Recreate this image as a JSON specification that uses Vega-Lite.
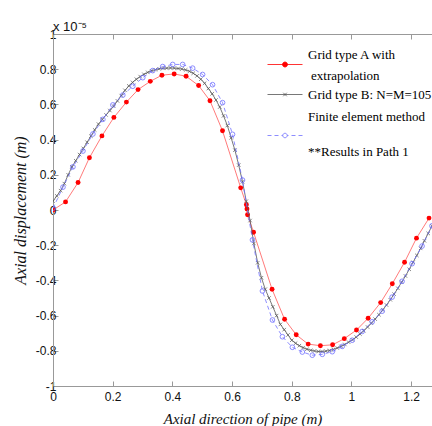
{
 "$schema": "https://vega.github.io/schema/vega-lite/v6.json",
 "width": 379,
 "height": 352,
 "autosize": {"type": "none"},
 "padding": {"left": 53, "top": 34, "right": 0, "bottom": 40},
 "config": {"view": {"stroke": null}, "font": "Liberation Sans"},
 "title": {"text": "x 10⁻⁵", "anchor": "start", "frame": "group", "font": "Liberation Sans", "fontSize": 13, "fontWeight": "normal", "color": "#111", "offset": -6},
 "datasets": {
  "A": [
   {"x":0,"y":0},{"x":0.042,"y":0.046},{"x":0.084,"y":0.156},{"x":0.122,"y":0.297},{"x":0.164,"y":0.421},{"x":0.204,"y":0.526},{"x":0.246,"y":0.613},{"x":0.285,"y":0.684},{"x":0.326,"y":0.731},{"x":0.365,"y":0.766},{"x":0.406,"y":0.773},{"x":0.446,"y":0.76},{"x":0.488,"y":0.707},{"x":0.526,"y":0.621},{"x":0.568,"y":0.45},{"x":0.629,"y":0.126},{"x":0.648,"y":0.03},{"x":0.65,"y":0.006},{"x":0.652,"y":-0.027},{"x":0.672,"y":-0.126},{"x":0.734,"y":-0.45},{"x":0.776,"y":-0.621},{"x":0.815,"y":-0.709},{"x":0.855,"y":-0.762},{"x":0.896,"y":-0.771},{"x":0.937,"y":-0.766},{"x":0.976,"y":-0.731},{"x":1.017,"y":-0.682},{"x":1.056,"y":-0.615},{"x":1.098,"y":-0.526},{"x":1.137,"y":-0.419},{"x":1.178,"y":-0.297},{"x":1.218,"y":-0.16},{"x":1.26,"y":-0.046}
  ],
  "B": [
   {"x":0,"y":0.05},{"x":0.0127,"y":0.08},{"x":0.0254,"y":0.11},{"x":0.0381,"y":0.15},{"x":0.0508,"y":0.2},{"x":0.0635,"y":0.245},{"x":0.0762,"y":0.28},{"x":0.0889,"y":0.315},{"x":0.1016,"y":0.35},{"x":0.1143,"y":0.385},
   {"x":0.127,"y":0.42},{"x":0.1397,"y":0.455},{"x":0.1524,"y":0.488},{"x":0.1651,"y":0.515},{"x":0.1778,"y":0.54},{"x":0.1905,"y":0.565},{"x":0.2032,"y":0.59},{"x":0.2159,"y":0.62},{"x":0.2286,"y":0.65},{"x":0.2413,"y":0.68},
   {"x":0.254,"y":0.705},{"x":0.2667,"y":0.725},{"x":0.2794,"y":0.743},{"x":0.2921,"y":0.758},{"x":0.3048,"y":0.771},{"x":0.3175,"y":0.782},{"x":0.3302,"y":0.791},{"x":0.3429,"y":0.797},{"x":0.3556,"y":0.802},{"x":0.3683,"y":0.805},
   {"x":0.381,"y":0.806},{"x":0.3937,"y":0.807},{"x":0.4064,"y":0.806},{"x":0.4191,"y":0.804},{"x":0.4318,"y":0.801},{"x":0.4445,"y":0.796},{"x":0.4572,"y":0.788},{"x":0.4699,"y":0.777},{"x":0.4826,"y":0.762},{"x":0.4953,"y":0.743},
   {"x":0.508,"y":0.72},{"x":0.5207,"y":0.69},{"x":0.5334,"y":0.66},{"x":0.5461,"y":0.625},{"x":0.5588,"y":0.585},{"x":0.5715,"y":0.535},{"x":0.5842,"y":0.48},{"x":0.5969,"y":0.41},{"x":0.6096,"y":0.34},{"x":0.6223,"y":0.255},
   {"x":0.635,"y":0.16},{"x":0.6477,"y":0.05},{"x":0.6604,"y":-0.06},{"x":0.6731,"y":-0.19},{"x":0.6858,"y":-0.3},{"x":0.6985,"y":-0.385},{"x":0.7112,"y":-0.45},{"x":0.7239,"y":-0.5},{"x":0.7366,"y":-0.55},{"x":0.7493,"y":-0.6},
   {"x":0.762,"y":-0.65},{"x":0.7747,"y":-0.68},{"x":0.7874,"y":-0.71},{"x":0.8001,"y":-0.74},{"x":0.8128,"y":-0.757},{"x":0.8255,"y":-0.771},{"x":0.8382,"y":-0.782},{"x":0.8509,"y":-0.791},{"x":0.8636,"y":-0.797},{"x":0.8763,"y":-0.801},
   {"x":0.889,"y":-0.804},{"x":0.9017,"y":-0.804},{"x":0.9144,"y":-0.802},{"x":0.9271,"y":-0.798},{"x":0.9398,"y":-0.792},{"x":0.9525,"y":-0.784},{"x":0.9652,"y":-0.775},{"x":0.9779,"y":-0.764},{"x":0.9906,"y":-0.751},{"x":1.0033,"y":-0.738},
   {"x":1.016,"y":-0.722},{"x":1.0287,"y":-0.705},{"x":1.0414,"y":-0.686},{"x":1.0541,"y":-0.665},{"x":1.0668,"y":-0.643},{"x":1.0795,"y":-0.62},{"x":1.0922,"y":-0.595},{"x":1.1049,"y":-0.568},{"x":1.1176,"y":-0.54},{"x":1.1303,"y":-0.51},
   {"x":1.143,"y":-0.478},{"x":1.1557,"y":-0.445},{"x":1.1684,"y":-0.41},{"x":1.1811,"y":-0.375},{"x":1.1938,"y":-0.337},{"x":1.2065,"y":-0.297},{"x":1.2192,"y":-0.258},{"x":1.2319,"y":-0.218},{"x":1.2446,"y":-0.175},{"x":1.2573,"y":-0.133},{"x":1.27,"y":-0.09}
  ],
  "FEM": [
   {"x":0,"y":0.01},{"x":0.0334,"y":0.13},{"x":0.0668,"y":0.245},{"x":0.1003,"y":0.335},{"x":0.1337,"y":0.432},{"x":0.1671,"y":0.515},{"x":0.2005,"y":0.597},{"x":0.2339,"y":0.653},{"x":0.2674,"y":0.703},{"x":0.3008,"y":0.752},
   {"x":0.3342,"y":0.792},{"x":0.3676,"y":0.815},{"x":0.4011,"y":0.827},{"x":0.4345,"y":0.827},{"x":0.4679,"y":0.806},{"x":0.5013,"y":0.77},{"x":0.5347,"y":0.712},{"x":0.5682,"y":0.61},{"x":0.6016,"y":0.43},{"x":0.635,"y":0.17},
   {"x":0.6684,"y":-0.17},{"x":0.7018,"y":-0.46},{"x":0.7353,"y":-0.625},{"x":0.7687,"y":-0.72},{"x":0.8021,"y":-0.78},{"x":0.8355,"y":-0.807},{"x":0.8689,"y":-0.825},{"x":0.9024,"y":-0.82},{"x":0.9358,"y":-0.805},{"x":0.9692,"y":-0.775},
   {"x":1.0026,"y":-0.74},{"x":1.0361,"y":-0.69},{"x":1.0695,"y":-0.635},{"x":1.1029,"y":-0.575},{"x":1.1363,"y":-0.495},{"x":1.1697,"y":-0.405},{"x":1.2032,"y":-0.305},{"x":1.2366,"y":-0.205},{"x":1.27,"y":-0.09}
  ]
 },
 "encoding": {
  "y": {"field": "y", "type": "quantitative", "scale": {"domain": [-1, 1], "nice": false, "zero": false},
   "axis": {"values": [-1, -0.8, -0.6, -0.4, -0.2, 0, 0.2, 0.4, 0.6, 0.8, 1], "grid": false, "tickSize": -5, "labelPadding": 2, "domainColor": "#999", "tickColor": "#999", "labelFont": "Liberation Sans", "labelFontSize": 12, "labelColor": "#111", "labelExpr": "toString(datum.value)", "labelFlush": false, "labelOverlap": false, "labelBound": false,
    "title": "Axial displacement (m)", "titleFont": "Liberation Serif", "titleFontStyle": "italic", "titleFontWeight": "normal", "titleFontSize": 16, "titleColor": "#111", "titlePadding": 7}}
 },
 "layer": [
  {
   "data": {"name": "A"},
   "transform": [{"calculate": "'A'", "as": "s"}],
   "mark": {"type": "line", "strokeWidth": 0.7, "strokeOpacity": 0.75, "clip": true},
   "encoding": {
    "x": {"field": "x", "type": "quantitative", "scale": {"domain": [0, 1.27], "nice": false, "zero": false},
     "axis": {"orient": "bottom", "values": [0, 0.2, 0.4, 0.6, 0.8, 1, 1.2], "grid": false, "tickSize": -5, "labelPadding": 10, "domainColor": "#999", "tickColor": "#999", "labelFont": "Liberation Sans", "labelFontSize": 12, "labelColor": "#111", "labelExpr": "toString(datum.value)", "labelFlush": false, "labelOverlap": false,
      "title": "Axial direction of pipe (m)", "titleFont": "Liberation Serif", "titleFontStyle": "italic", "titleFontWeight": "normal", "titleFontSize": 15, "titleColor": "#111", "titlePadding": 9}},
    "color": {"field": "s", "type": "nominal", "scale": {"domain": ["A", "A2", "B", "FEM", "gap", "note"], "range": ["#ff0000", "#ffffff", "#555555", "#7070ff", "#7070ff", "#ffffff"]},
     "legend": {"orient": "none", "legendX": 225.5, "legendY": 14, "title": null, "padding": 0, "rowPadding": -4.5,
      "labelFont": "Liberation Serif", "labelFontSize": 13, "labelColor": "#000", "labelOffset": 16.5, "labelLimit": 200,
      "symbolSize": 100,
      "encode": {
       "labels": {"update": {
        "text": {"signal": "datum.value == 'A' ? 'Grid type A with' : datum.value == 'A2' ? 'extrapolation' : datum.value == 'B' ? 'Grid type B: N=M=105' : datum.value == 'FEM' ? 'Finite element method' : datum.value == 'note' ? '**Results in Path 1' : ''"},
        "dx": {"signal": "datum.value == 'A2' ? 3 : 0"},
        "dy": {"signal": "datum.value == 'note' ? -7 : 0"}
       }},
       "symbols": {"update": {
        "shape": {"signal": "(datum.value == 'A' ? 'M-3.5,2L3.5,2M-0.5,2A0.5,0.5 0 1,0 0.5,2A0.5,0.5 0 1,0 -0.5,2Z' : datum.value == 'B' ? 'M-3.5,0L3.5,0M-0.35,-0.35L0.35,0.35M-0.35,0.35L0.35,-0.35' : datum.value == 'gap' ? 'M-3.5,-0.4L-2.7,-0.4M-2.1,-0.4L-1.3,-0.4M-0.7,-0.4L-0.45,-0.4M0.45,-0.4L0.7,-0.4M1.3,-0.4L2.1,-0.4M2.7,-0.4L3.5,-0.4M-0.45,-0.4A0.45,0.45 0 1,0 0.45,-0.4A0.45,0.45 0 1,0 -0.45,-0.4Z' : '') + (datum.value == 'A2' ? 'M0,-1.9L0,-1.9M0,1.6L0,1.6' : datum.value == 'B' ? 'M0,-2L0,-2M0,2.4L0,2.4' : 'M0,-2L0,-2M0,2L0,2')"},
        "fill": {"signal": "datum.value == 'A' ? '#ff0000' : 'transparent'"},
        "fillOpacity": {"signal": "datum.value == 'A' ? 1 : 0"},
        "stroke": {"signal": "datum.value == 'A' ? '#ff4444' : datum.value == 'B' ? '#555555' : datum.value == 'gap' ? '#7070ff' : 'transparent'"},
        "strokeWidth": {"value": 0.8},
        "strokeCap": {"value": "butt"},
        "strokeDash": {"value": []},
        "opacity": {"value": 1}
       }}
      }}}
   }
  },
  {
   "data": {"name": "A"},
   "transform": [{"calculate": "'A'", "as": "s"}],
   "mark": {"type": "point", "filled": true, "shape": "circle", "size": 24, "opacity": 1, "clip": true},
   "encoding": {
    "x": {"field": "x", "type": "quantitative", "axis": null},
    "color": {"field": "s", "type": "nominal"}
   }
  },
  {
   "data": {"name": "B"},
   "transform": [{"calculate": "'B'", "as": "s"}],
   "mark": {"type": "line", "strokeWidth": 0.8, "clip": true},
   "encoding": {
    "x": {"field": "x", "type": "quantitative", "axis": null},
    "color": {"field": "s", "type": "nominal"}
   }
  },
  {
   "data": {"name": "B"},
   "transform": [{"calculate": "'B'", "as": "s"}],
   "mark": {"type": "point", "filled": false, "shape": "M-1,-1L1,1M-1,1L1,-1", "size": 12, "strokeWidth": 0.7, "opacity": 1, "clip": true},
   "encoding": {
    "x": {"field": "x", "type": "quantitative", "axis": null},
    "color": {"field": "s", "type": "nominal"}
   }
  },
  {
   "data": {"name": "FEM"},
   "transform": [{"calculate": "'FEM'", "as": "s"}],
   "mark": {"type": "line", "strokeWidth": 0.8, "strokeDash": [4, 3], "clip": true},
   "encoding": {
    "x": {"field": "x", "type": "quantitative", "axis": null},
    "color": {"field": "s", "type": "nominal"}
   }
  },
  {
   "data": {"name": "FEM"},
   "transform": [{"calculate": "'FEM'", "as": "s"}],
   "mark": {"type": "point", "filled": false, "shape": "circle", "size": 22, "strokeWidth": 0.8, "opacity": 1, "clip": true},
   "encoding": {
    "x": {"field": "x", "type": "quantitative",
     "axis": {"orient": "top", "values": [0, 0.2, 0.4, 0.6, 0.8, 1, 1.2], "grid": false, "tickSize": -5, "labels": false, "title": null, "domainColor": "#999", "tickColor": "#999"}},
    "color": {"field": "s", "type": "nominal"}
   }
  }
 ],
 "resolve": {"axis": {"x": "independent"}}
}
